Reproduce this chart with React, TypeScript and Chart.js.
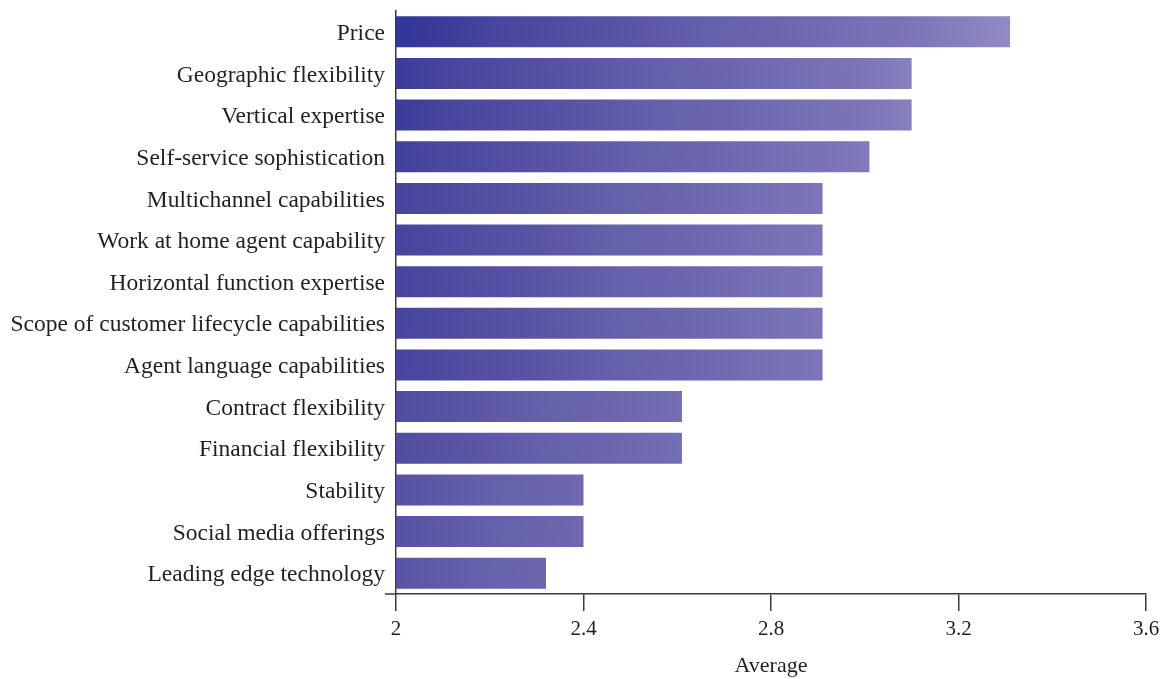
import React, { useEffect, useRef } from "react";
import { Chart, registerables } from "chart.js";

Chart.register(...registerables);

const categories = [
  "Price",
  "Geographic flexibility",
  "Vertical expertise",
  "Self-service sophistication",
  "Multichannel capabilities",
  "Work at home agent capability",
  "Horizontal function expertise",
  "Scope of customer lifecycle capabilities",
  "Agent language capabilities",
  "Contract flexibility",
  "Financial flexibility",
  "Stability",
  "Social media offerings",
  "Leading edge technology",
];

const averages = [3.31, 3.1, 3.1, 3.01, 2.91, 2.91, 2.91, 2.91, 2.91, 2.61, 2.61, 2.4, 2.4, 2.32];

const xTicks = [2, 2.4, 2.8, 3.2, 3.6];
const xMin = 2;
const xMax = 3.6;
const axisTitle = "Average";

const FONT = "'Liberation Serif', 'Times New Roman', serif";
const TEXT = "#231f20";
const AXIS = "#3a3a3a";

const gradientStops: [number, string][] = [
  [0, "#32359a"],
  [0.1, "#3d3d9b"],
  [0.16, "#47459d"],
  [0.38, "#5a54a5"],
  [0.5, "#6560ab"],
  [0.62, "#6c66af"],
  [0.84, "#7c76b8"],
  [1, "#918cc5"],
];

export default function App() {
  const ref = useRef<HTMLCanvasElement | null>(null);

  useEffect(() => {
    const canvas = ref.current;
    if (!canvas) return;

    const barFill = (ctx: any) => {
      const chart = ctx.chart;
      const xs = chart.scales?.x;
      const ys = chart.scales?.y;
      if (ctx.type !== "data" || !xs || !ys) return "#6560ab";
      const v = ctx.raw as number;
      const x0 = xs.getPixelForValue(xMin);
      const x1 = xs.getPixelForValue(v);
      const cy = ys.getPixelForValue(ctx.dataIndex);
      if (![x0, x1, cy].every((n) => Number.isFinite(n))) return "#6560ab";
      const cx = (x0 + x1) / 2;
      const H = 310;
      const g = chart.ctx.createLinearGradient(cx - H, cy + 18, cx + H, cy - 18);
      gradientStops.forEach(([t, c]) => g.addColorStop(t, c));
      return g;
    };

    const stubPlugin = {
      id: "axisStub",
      afterDraw(chart: any) {
        const { ctx, chartArea } = chart;
        ctx.save();
        ctx.strokeStyle = AXIS;
        ctx.lineWidth = 1.5;
        ctx.beginPath();
        ctx.moveTo(chartArea.left - 11, chartArea.bottom);
        ctx.lineTo(chartArea.left, chartArea.bottom);
        ctx.stroke();
        ctx.restore();
      },
    };

    const chart = new Chart(canvas, {
      type: "bar",
      data: {
        labels: categories,
        datasets: [
          {
            data: averages,
            backgroundColor: barFill,
            borderWidth: 0,
            barPercentage: 0.745,
            categoryPercentage: 1,
          },
        ],
      },
      plugins: [stubPlugin],
      options: {
        indexAxis: "y",
        animation: false,
        responsive: false,
        maintainAspectRatio: false,
        layout: { padding: { top: 11, right: 23, bottom: 0, left: 0 } },
        plugins: {
          legend: { display: false },
          tooltip: { enabled: false },
        },
        scales: {
          x: {
            type: "linear",
            min: xMin,
            max: xMax,
            afterBuildTicks: (s: any) => {
              s.ticks = xTicks.map((v) => ({ value: v }));
            },
            afterFit: (s: any) => {
              s.height = 85;
            },
            ticks: {
              color: TEXT,
              font: { family: FONT, size: 21 },
              padding: 6,
              maxRotation: 0,
              autoSkip: false,
              callback: (v: any) => String(v),
            },
            grid: {
              display: true,
              drawOnChartArea: false,
              drawTicks: true,
              tickLength: 17,
              color: AXIS,
              lineWidth: 1.5,
            },
            border: { display: true, color: AXIS, width: 1.5 },
            title: {
              display: true,
              text: axisTitle,
              color: TEXT,
              font: { family: FONT, size: 22 },
              padding: { top: 0, bottom: 0 },
            },
          },
          y: {
            type: "category",
            afterFit: (s: any) => {
              s.width = 396;
              s.paddingTop = 0;
              s.paddingBottom = 0;
            },
            ticks: {
              color: TEXT,
              font: { family: FONT, size: 23.5 },
              padding: 11,
              labelOffset: 2,
              autoSkip: false,
            },
            grid: { display: false, drawTicks: false, tickLength: 0 },
            border: { display: true, color: AXIS, width: 1.5 },
          },
        },
      },
    });

    return () => chart.destroy();
  }, []);

  return (
    <div style={{ position: "fixed", left: 0, top: 0, width: 1169, height: 679, background: "#fff" }}>
      <canvas ref={ref} width={1169} height={679} style={{ width: 1169, height: 679, display: "block" }} />
    </div>
  );
}
